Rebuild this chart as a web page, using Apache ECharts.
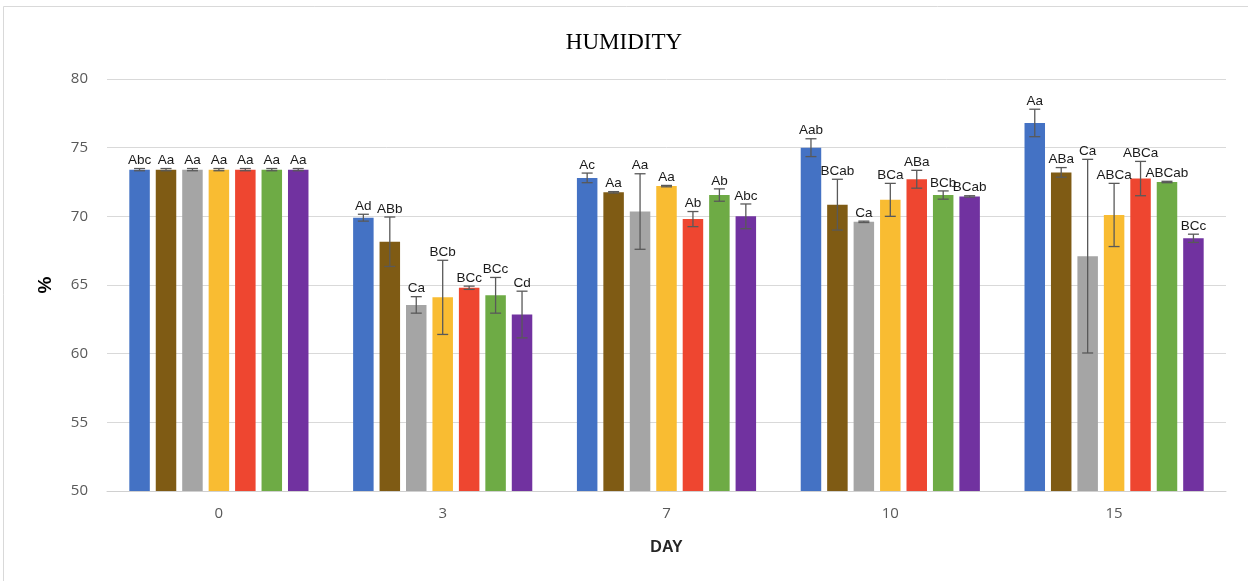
<!DOCTYPE html>
<html>
<head>
<meta charset="utf-8">
<title>HUMIDITY</title>
<script src="https://cdn.jsdelivr.net/npm/echarts@6/dist/echarts.min.js"></script>
<style>
  html, body { margin: 0; padding: 0; background: #fff; }
  #chart { width: 1248px; height: 581px; }
</style>
</head>
<body>
<div id="chart"></div>
<script>
// Sampling days (x categories)
const days = ['0', '3', '7', '10', '15'];

// Y-axis ticks
const yTicks = { min: 50, max: 80, step: 5 };

// Mean humidity (%) per treatment, one value per day
const meanT1 = [73.4, 69.9, 72.8, 75.0, 76.8];
const meanT2 = [73.4, 68.15, 71.75, 70.85, 73.2];
const meanT3 = [73.4, 63.55, 70.35, 69.6, 67.1];
const meanT4 = [73.4, 64.1, 72.2, 71.2, 70.1];
const meanT5 = [73.4, 64.8, 69.8, 72.7, 72.75];
const meanT6 = [73.4, 64.25, 71.55, 71.55, 72.5];
const meanT7 = [73.4, 62.85, 70.0, 71.45, 68.4];

// Standard deviation per treatment, one value per day
const sdT1 = [0.08, 0.25, 0.35, 0.65, 1.0];
const sdT2 = [0.08, 1.8, 0.05, 1.85, 0.35];
const sdT3 = [0.08, 0.6, 2.75, 0.05, 7.05];
const sdT4 = [0.08, 2.7, 0.05, 1.2, 2.3];
const sdT5 = [0.08, 0.12, 0.55, 0.65, 1.25];
const sdT6 = [0.08, 1.3, 0.45, 0.3, 0.05];
const sdT7 = [0.08, 1.7, 0.9, 0.05, 0.3];

// Significance letters per treatment, one per day
const letT1 = ['Abc', 'Ad', 'Ac', 'Aab', 'Aa'];
const letT2 = ['Aa', 'ABb', 'Aa', 'BCab', 'ABa'];
const letT3 = ['Aa', 'Ca', 'Aa', 'Ca', 'Ca'];
const letT4 = ['Aa', 'BCb', 'Aa', 'BCa', 'ABCa'];
const letT5 = ['Aa', 'BCc', 'Ab', 'ABa', 'ABCa'];
const letT6 = ['Aa', 'BCc', 'Ab', 'BCb', 'ABCab'];
const letT7 = ['Aa', 'Cd', 'Abc', 'BCab', 'BCc'];

const means = [meanT1, meanT2, meanT3, meanT4, meanT5, meanT6, meanT7];
const sds = [sdT1, sdT2, sdT3, sdT4, sdT5, sdT6, sdT7];
const letters = [letT1, letT2, letT3, letT4, letT5, letT6, letT7];
const names = ['T1', 'T2', 'T3', 'T4', 'T5', 'T6', 'T7'];
const colors = ['#4472C4', '#7F5B14', '#A5A5A5', '#F9BC32', '#EE4630', '#6EAB45', '#7132A0'];

const BAR_W = 20.5;
const GAP_RATIO = 0.29;
const nSeries = means.length;

const barSeries = means.map((vals, i) => ({
  name: names[i],
  type: 'bar',
  data: vals,
  barWidth: BAR_W,
  barGap: (GAP_RATIO * 100) + '%',
  itemStyle: { color: colors[i] },
  z: 2
}));

// Error bars and letters, one item per bar
const errItems = [];
means.forEach((vals, i) => {
  vals.forEach((v, d) => {
    errItems.push({ value: [d, v, sds[i][d], i], text: letters[i][d] });
  });
});

const errSeries = {
  type: 'custom',
  coordinateSystem: 'cartesian2d',
  encode: { x: 0, y: 1 },
  z: 5,
  silent: true,
  data: errItems.map(it => it.value),
  renderItem: function (params, api) {
    const cat = api.value(0);
    const m = api.value(1);
    const e = api.value(2);
    const si = api.value(3);
    const base = api.coord([cat, m]);
    const x = base[0] + (si - (nSeries - 1) / 2) * BAR_W * (1 + GAP_RATIO);
    const yTop = api.coord([cat, m + e])[1];
    const yBot = api.coord([cat, m - e])[1];
    const cap = 5.5;
    const st = { stroke: '#595959', lineWidth: 1.3 };
    return {
      type: 'group',
      children: [
        { type: 'line', shape: { x1: x, y1: yTop, x2: x, y2: yBot }, style: st },
        { type: 'line', shape: { x1: x - cap, y1: yTop, x2: x + cap, y2: yTop }, style: st },
        { type: 'line', shape: { x1: x - cap, y1: yBot, x2: x + cap, y2: yBot }, style: st },
        {
          type: 'text',
          x: x,
          y: yTop - 1,
          style: {
            text: errItems[params.dataIndex].text,
            fill: '#1a1a1a',
            font: '13.5px "Liberation Sans", Arial, sans-serif',
            align: 'center',
            verticalAlign: 'bottom'
          }
        }
      ]
    };
  }
};

const chart = echarts.init(document.getElementById('chart'), null, { renderer: 'canvas' });
chart.setOption({
  animation: false,
  backgroundColor: '#ffffff',
  graphic: [{
    type: 'rect',
    shape: { x: 3.5, y: 6.5, width: 1260, height: 590 },
    style: { fill: 'none', stroke: '#D9D9D9', lineWidth: 1 },
    silent: true,
    z: -1
  }],
  title: {
    text: 'HUMIDITY',
    left: 'center',
    top: 26,
    textStyle: {
      fontFamily: '"Liberation Serif", "Times New Roman", serif',
      fontSize: 23,
      fontWeight: 'normal',
      color: '#000'
    }
  },
  grid: { left: 107, right: 22, top: 79, bottom: 90, containLabel: false },
  xAxis: {
    type: 'category',
    data: days,
    name: 'DAY',
    nameLocation: 'middle',
    nameGap: 49,
    nameTextStyle: { fontFamily: '"Liberation Sans", Arial, sans-serif', fontSize: 16, fontWeight: 'bold', color: '#262626' },
    axisTick: { show: false },
    axisLine: { lineStyle: { color: '#D0D0D0', width: 1 } },
    axisLabel: { fontFamily: '"Open Sans", sans-serif', fontSize: 15, color: '#595959', margin: 15 }
  },
  yAxis: {
    type: 'value',
    min: yTicks.min,
    max: yTicks.max,
    interval: yTicks.step,
    name: '%',
    nameLocation: 'middle',
    nameGap: 52,
    nameRotate: 90,
    nameTextStyle: { fontFamily: '"Liberation Sans", Arial, sans-serif', fontSize: 19, fontWeight: 'bold', color: '#000' },
    axisLine: { show: false },
    axisTick: { show: false },
    splitLine: { lineStyle: { color: '#D9D9D9', width: 1 } },
    axisLabel: { fontFamily: '"Open Sans", sans-serif', fontSize: 15, color: '#595959', margin: 19 }
  },
  series: barSeries.concat([errSeries])
});
</script>
</body>
</html>
